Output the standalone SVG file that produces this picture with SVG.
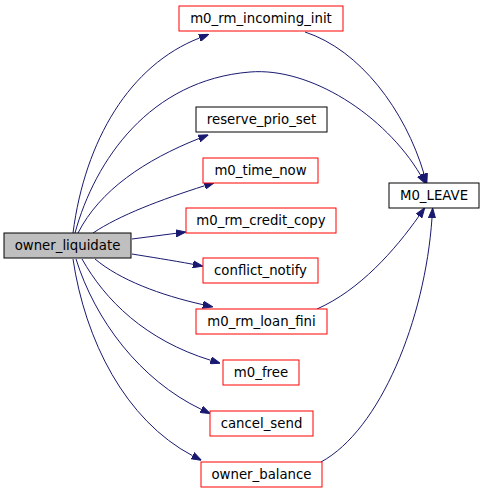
<svg xmlns="http://www.w3.org/2000/svg" width="484" height="493" viewBox="0 0 484 493">
<style>
.n rect{fill:#ffffff;stroke:#ff0000;stroke-width:1}
.n.b rect{stroke:#000000}
.n.g rect{fill:#bfbfbf;stroke:#000000}
.n text{font-family:"DejaVu Sans","Liberation Sans",sans-serif;font-size:13.3px;fill:#000000;text-anchor:middle}
#edges path{fill:none;stroke:#191970;stroke-width:1;marker-end:url(#ah)}
</style>
<defs>
<marker id="ah" markerUnits="userSpaceOnUse" markerWidth="10" markerHeight="8" refX="0" refY="3.5" orient="auto" viewBox="0 0 10 7">
<path d="M0,0 L10,3.5 L0,7 z" fill="#191970" stroke="#191970"/>
</marker>
</defs>
<rect x="0" y="0" width="484" height="493" fill="#ffffff"/>
<g id="edges">
<path d="M73,233 C85,140 130,65 199.5,38"/>
<path d="M75,233 C95,160 150,80 250,72 C310,67 385,115 420.5,175"/>
<path d="M78,233 C100,190 145,160 199,138.5"/>
<path d="M93,233 C120,215 160,200 204.7,185.7"/>
<path d="M132,239 L176,233.3"/>
<path d="M132,254 C150,257 170,260 193.1,264.3"/>
<path d="M95,259 C120,280 160,295 203,304.7"/>
<path d="M82,259 C105,300 145,340 210.7,360.3"/>
<path d="M76,259 C95,320 140,380 201.2,409.3"/>
<path d="M73,259 C85,340 125,420 192.5,455.7"/>
<path d="M305,32 C360,50 405,110 424,173.8"/>
<path d="M317,309 C360,290 395,250 419,216"/>
<path d="M321,462 C380,430 425,320 432,218"/>
</g>
<g id="owner_liquidate" class="n g"><rect x="4" y="233" width="127" height="25"/><text x="67.5" y="250">owner_liquidate</text></g>
<g id="m0_rm_incoming_init" class="n"><rect x="179" y="6" width="164" height="25"/><text x="261" y="23">m0_rm_incoming_init</text></g>
<g id="reserve_prio_set" class="n b"><rect x="196" y="107" width="131" height="25"/><text x="261.5" y="124">reserve_prio_set</text></g>
<g id="m0_time_now" class="n"><rect x="203" y="158" width="115" height="25"/><text x="260.5" y="175">m0_time_now</text></g>
<g id="m0_rm_credit_copy" class="n"><rect x="186" y="208" width="150" height="25"/><text x="261" y="225">m0_rm_credit_copy</text></g>
<g id="conflict_notify" class="n"><rect x="203" y="258" width="115" height="25"/><text x="260.5" y="275">conflict_notify</text></g>
<g id="m0_rm_loan_fini" class="n"><rect x="196" y="309" width="131" height="25"/><text x="261.5" y="326">m0_rm_loan_fini</text></g>
<g id="m0_free" class="n"><rect x="223" y="360" width="76" height="25"/><text x="261" y="377">m0_free</text></g>
<g id="cancel_send" class="n"><rect x="210" y="411" width="103" height="25"/><text x="261.5" y="428">cancel_send</text></g>
<g id="owner_balance" class="n"><rect x="201" y="462" width="121" height="25"/><text x="261.5" y="479">owner_balance</text></g>
<g id="M0_LEAVE" class="n b"><rect x="389" y="183" width="90" height="25"/><text x="434" y="200">M0_LEAVE</text></g>
</svg>
